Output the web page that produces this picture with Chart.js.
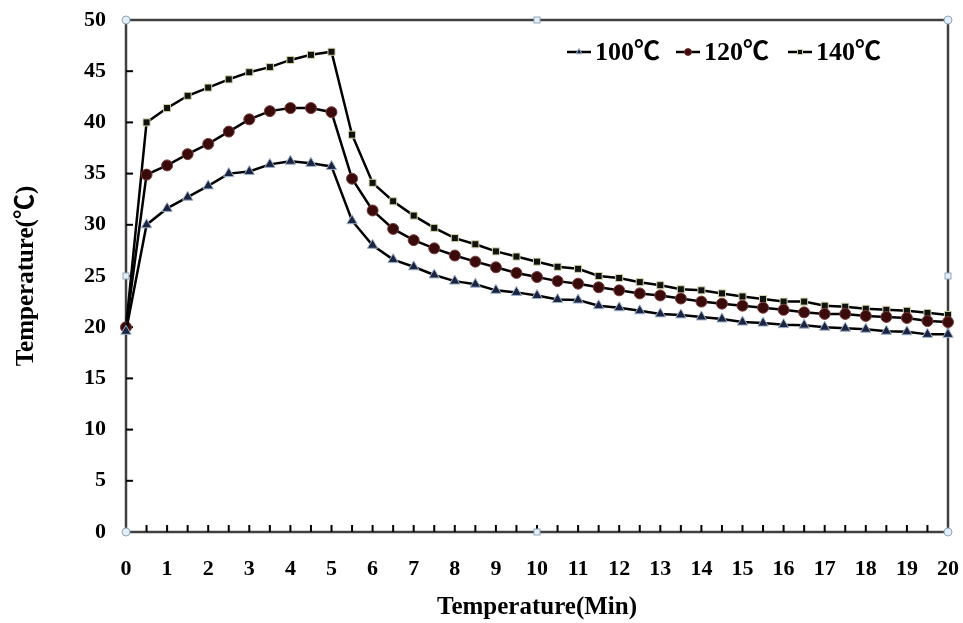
<!DOCTYPE html>
<html>
<head>
<meta charset="utf-8">
<script src="https://cdn.jsdelivr.net/npm/chart.js@4/dist/chart.umd.min.js"></script>
<style>
html,body{margin:0;padding:0;background:#fff;}
#wrap{width:963px;height:623px;position:relative;}
</style>
</head>
<body>
<div id="wrap"><canvas id="c" width="963" height="623"></canvas></div>
<script>
const times = [0,0.5,1,1.5,2,2.5,3,3.5,4,4.5,5,5.5,6,6.5,7,7.5,8,8.5,9,9.5,10,10.5,11,11.5,12,12.5,13,13.5,14,14.5,15,15.5,16,16.5,17,17.5,18,18.5,19,19.5,20];
const t100 = [19.6,30.0,31.6,32.7,33.8,35.0,35.2,35.9,36.2,36.0,35.7,30.4,28.0,26.6,25.9,25.1,24.5,24.2,23.6,23.4,23.1,22.7,22.65,22.1,21.9,21.6,21.3,21.2,21.0,20.8,20.5,20.4,20.25,20.2,20.0,19.9,19.8,19.6,19.55,19.3,19.3];
const t120 = [20.0,34.9,35.8,36.9,37.9,39.1,40.3,41.1,41.4,41.4,41.0,34.5,31.4,29.6,28.5,27.7,27.0,26.4,25.85,25.3,24.9,24.5,24.25,23.9,23.6,23.3,23.1,22.8,22.5,22.3,22.1,21.9,21.7,21.45,21.3,21.3,21.1,21.0,20.9,20.6,20.5];
const t140 = [20.0,40.0,41.4,42.6,43.4,44.2,44.9,45.4,46.1,46.6,46.9,38.8,34.1,32.3,30.9,29.7,28.7,28.1,27.4,26.9,26.4,25.9,25.7,25.0,24.8,24.4,24.1,23.7,23.6,23.3,23.0,22.75,22.5,22.5,22.1,22.0,21.8,21.7,21.6,21.4,21.2];
const seriesNames = ['100℃','120℃','140℃'];
const xTitle = 'Temperature(Min)';
const yTitle = 'Temperature(℃)';

const FONT = "'Liberation Serif','Noto Sans CJK SC','Times New Roman',serif";
const styles = [
  {pointStyle:'triangle', bg:'#1b2440', border:'#9fb2cc', r:6},
  {pointStyle:'circle', bg:'#3a0b0b', border:'#7a3a3a', r:5.5},
  {pointStyle:'rect', bg:'#111111', border:'#d6d6ac', r:5}
];
const seriesData = [t100, t120, t140];

const datasets = seriesData.map((arr, k) => ({
  label: seriesNames[k],
  data: times.map((t, i) => ({x: t, y: arr[i]})),
  borderColor: '#000000',
  borderWidth: 2.5,
  pointStyle: styles[k].pointStyle,
  pointBackgroundColor: styles[k].bg,
  pointBorderColor: styles[k].border,
  pointBorderWidth: 1,
  pointRadius: styles[k].r,
  tension: 0,
  clip: false
}));

const framePlugin = {
  id: 'frame',
  beforeDatasetsDraw(chart) {
    const {ctx, chartArea: a, scales} = chart;
    ctx.save();
    ctx.strokeStyle = '#404040';
    ctx.lineWidth = 2.5;
    ctx.strokeRect(a.left, a.top, a.right - a.left, a.bottom - a.top);
    ctx.lineWidth = 2;
    ctx.strokeStyle = '#000';
    scales.x.ticks.forEach(t => {
      const px = scales.x.getPixelForValue(t.value);
      if (t.value === scales.x.min || t.value === scales.x.max) return;
      ctx.beginPath(); ctx.moveTo(px, a.bottom); ctx.lineTo(px, a.bottom - 7); ctx.stroke();
    });
    scales.y.ticks.forEach(t => {
      const py = scales.y.getPixelForValue(t.value);
      if (t.value === scales.y.min || t.value === scales.y.max) return;
      ctx.beginPath(); ctx.moveTo(a.left, py); ctx.lineTo(a.left + 7, py); ctx.stroke();
    });
    ctx.restore();
  },
  afterDraw(chart) {
    const {ctx, chartArea: a} = chart;
    ctx.save();
    ctx.fillStyle = '#e4eef6';
    ctx.strokeStyle = '#8fa8bc';
    ctx.lineWidth = 1;
    [[a.left,a.top],[a.right,a.top],[a.left,a.bottom],[a.right,a.bottom]].forEach(([x,y]) => {
      ctx.beginPath(); ctx.arc(x, y, 4, 0, Math.PI*2); ctx.fill(); ctx.stroke();
    });
    const mx = (a.left + a.right)/2, my = (a.top + a.bottom)/2;
    [[mx,a.top],[mx,a.bottom],[a.left,my],[a.right,my]].forEach(([x,y]) => {
      ctx.fillRect(x-3, y-3, 6, 6); ctx.strokeRect(x-3, y-3, 6, 6);
    });
    const lx = [567, 676, 788];
    const ly = 52;
    ctx.font = 'bold 26px ' + FONT;
    ctx.textBaseline = 'middle';
    ctx.textAlign = 'left';
    chart.data.datasets.forEach((ds, k) => {
      const x0 = lx[k];
      ctx.strokeStyle = '#000'; ctx.lineWidth = 2.5;
      ctx.beginPath(); ctx.moveTo(x0, ly); ctx.lineTo(x0 + 24, ly); ctx.stroke();
      ctx.fillStyle = ds.pointBackgroundColor; ctx.strokeStyle = ds.pointBorderColor; ctx.lineWidth = 1;
      Chart.helpers.drawPoint(ctx, {pointStyle: ds.pointStyle, radius: 3.5, rotation: 0, borderWidth: 1}, x0 + 12, ly);
      ctx.fillStyle = '#000';
      ctx.fillText(ds.label, x0 + 28, ly + 1);
    });
    ctx.restore();
  }
};

new Chart(document.getElementById('c'), {
  type: 'line',
  data: {datasets},
  options: {
    responsive: false,
    animation: false,
    layout: {padding: {left: 0, right: 15, top: 20, bottom: 0}},
    plugins: {legend: {display: false}, tooltip: {enabled: false}},
    scales: {
      x: {
        type: 'linear', min: 0, max: 20,
        grid: {display: false, drawTicks: false},
        border: {display: false},
        ticks: {
          stepSize: 0.5, autoSkip: false, maxRotation: 0, padding: 24,
          color: '#000', font: {family: FONT, size: 22, weight: 'bold'},
          callback: v => Number.isInteger(v) ? String(v) : ''
        },
        title: {display: true, text: xTitle, color: '#000', padding: {top: 6, bottom: 0},
          font: {family: FONT, size: 25, weight: 'bold'}},
        afterFit(s) { s.height = 91; s.paddingLeft = 0; s.paddingRight = 0; }
      },
      y: {
        min: 0, max: 50,
        grid: {display: false, drawTicks: false},
        border: {display: false},
        ticks: {stepSize: 5, padding: 20, color: '#000', font: {family: FONT, size: 22, weight: 'bold'}},
        title: {display: true, text: yTitle, color: '#000', padding: {top: 12, bottom: 0},
          font: {family: FONT, size: 25, weight: 'bold'}},
        afterFit(s) { s.width = 126; s.paddingTop = 0; s.paddingBottom = 0; }
      }
    }
  },
  plugins: [framePlugin]
});
</script>
</body>
</html>
